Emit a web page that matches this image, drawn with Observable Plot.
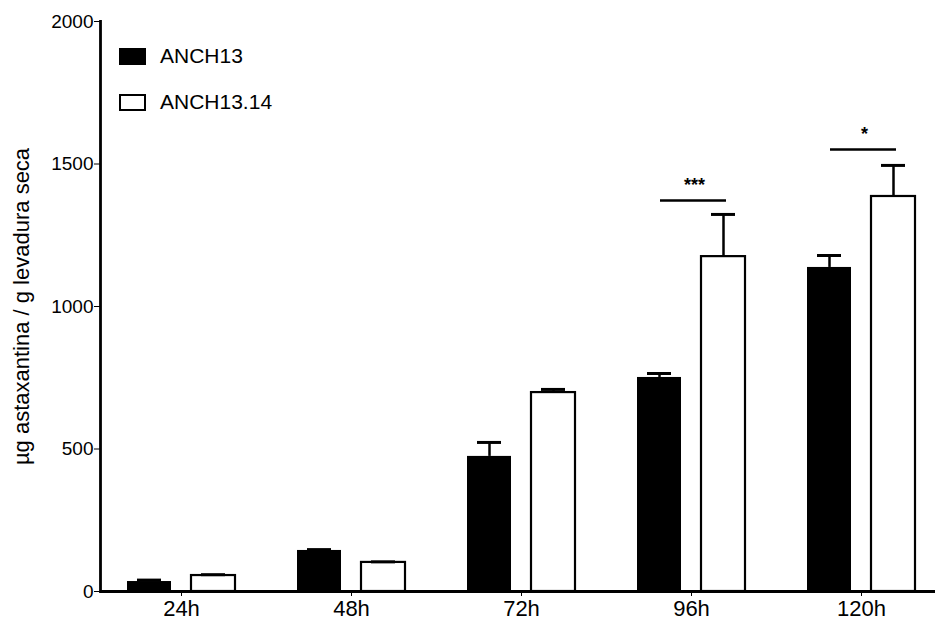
<!DOCTYPE html>
<html>
<head>
<meta charset="utf-8">
<script src="https://cdn.jsdelivr.net/npm/d3@7"></script>
<script src="https://cdn.jsdelivr.net/npm/@observablehq/plot@0.6"></script>
<style>
  html, body { margin: 0; padding: 0; background: #fff; }
  #wrap { position: relative; width: 939px; height: 624px; font-family: "Liberation Sans", Arial, Helvetica, sans-serif; color: #000; }
  .leg { position: absolute; left: 119px; display: flex; align-items: center; font-size: 21px; }
  .sw { width: 27px; height: 17px; box-sizing: border-box; margin-right: 14px; }
</style>
</head>
<body>
<div id="wrap"></div>
<script>
const times = ["24h", "48h", "72h", "96h", "120h"];
const series = ["ANCH13", "ANCH13.14"];
const anch13 = [35, 144, 474, 751, 1137];
const anch13Err = [5, 3, 49, 14, 42];
const anch1314 = [56, 102, 698, 1175, 1386];
const anch1314Err = [3, 2, 11, 148, 109];
const yTicks = [0, 500, 1000, 1500, 2000];
const sigTimes = ["96h", "120h"];
const sigY = [1372, 1551];
const sigLabels = ["***", "*"];
const yLabel = "µg astaxantina / g levadura seca";

const black = times.map((t, i) => ({time: t, value: anch13[i], top: anch13[i] + anch13Err[i]}));
const white = times.map((t, i) => ({time: t, value: anch1314[i], top: anch1314[i] + anch1314Err[i]}));
const sig = sigTimes.map((t, i) => ({time: t, y: sigY[i], label: sigLabels[i]}));

const chart = Plot.plot({
  width: 939,
  height: 624,
  marginLeft: 100,
  marginRight: 4,
  marginTop: 21,
  marginBottom: 33,
  style: {fontFamily: "'Liberation Sans', Arial, Helvetica, sans-serif", color: "#000", background: "#fff"},
  x: {domain: times, range: [97, 945], paddingInner: 0.365, paddingOuter: 0.176, label: null},
  y: {domain: [0, 2000], label: null},
  marks: [
    Plot.barY(black, {x: "time", y: "value", fill: "#000", insetRight: 64}),
    Plot.barY(white, {x: "time", y: "value", fill: "#fff", stroke: "#000", strokeWidth: 2.2, insetLeft: 64}),
    Plot.ruleX(black, {x: "time", y1: "value", y2: "top", dx: -32, stroke: "#000", strokeWidth: 2.5}),
    Plot.ruleX(white, {x: "time", y1: "value", y2: "top", dx: 32, stroke: "#000", strokeWidth: 2.5}),
    Plot.tickY(black, {x: "time", y: "top", insetLeft: 10, insetRight: 74, stroke: "#000", strokeWidth: 3}),
    Plot.tickY(white, {x: "time", y: "top", insetLeft: 74, insetRight: 10, stroke: "#000", strokeWidth: 3}),
    Plot.tickY(sig, {x: "time", y: "y", insetLeft: 23, insetRight: 19, stroke: "#000", strokeWidth: 2.5}),
    Plot.text(sig, {x: "time", y: "y", text: "label", dy: -15, fontSize: 18, fontWeight: "bold", dx: 3}),
    Plot.ruleY([0], {stroke: "#000", strokeWidth: 2.8}),
    Plot.frame({anchor: "left", stroke: "#000", strokeWidth: 2.8}),
    Plot.axisY({ticks: yTicks, tickFormat: d => String(d), tickSize: 6, tickPadding: 1, fontSize: 19,
      label: yLabel, labelAnchor: "center", labelArrow: "none", labelOffset: 87}),
    Plot.axisX({tickSize: 5, tickPadding: 4, fontSize: 22, label: null})
  ]
});

const wrap = document.getElementById("wrap");
wrap.appendChild(chart);
chart.querySelectorAll('[aria-label="y-axis label"] text').forEach(t => t.setAttribute("font-size", "22"));

const legendItems = [
  {name: series[0], top: 47, style: "background:#000;"},
  {name: series[1], top: 93, style: "background:#fff;border:2px solid #000;"}
];
legendItems.forEach(d => {
  const el = document.createElement("div");
  el.className = "leg";
  el.style.top = (d.top - 3) + "px";
  el.innerHTML = `<div class="sw" style="${d.style}"></div><span>${d.name}</span>`;
  wrap.appendChild(el);
});
</script>
</body>
</html>
